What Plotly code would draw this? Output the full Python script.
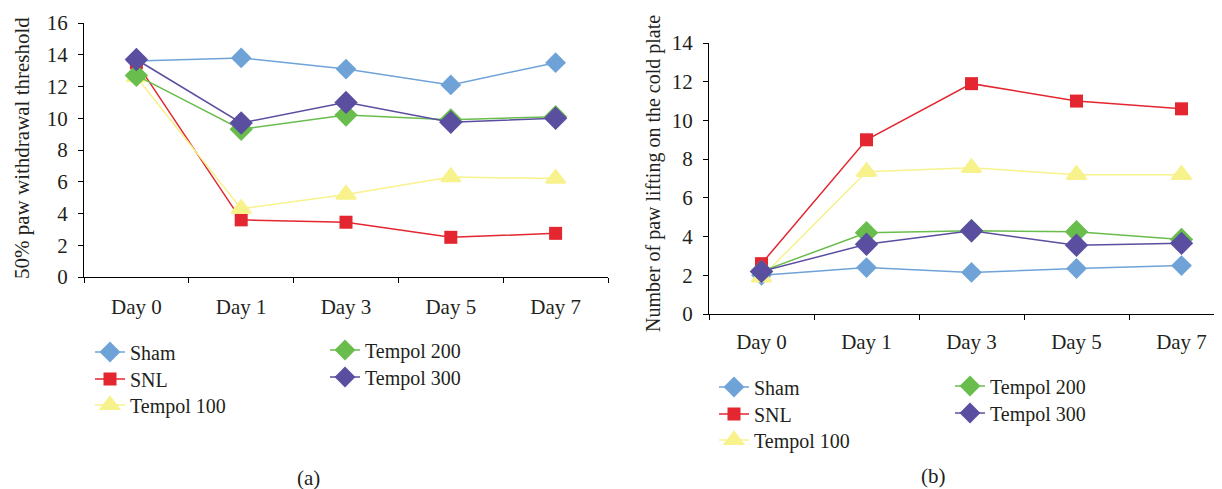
import plotly.graph_objects as go

days = ["Day 0", "Day 1", "Day 3", "Day 5", "Day 7"]
series_names = ["Sham", "SNL", "Tempol 100", "Tempol 200", "Tempol 300"]

# Panel (a): 50% paw withdrawal threshold
a_sham = [13.6, 13.8, 13.1, 12.1, 13.5]
a_snl = [13.5, 3.6, 3.45, 2.5, 2.75]
a_t100 = [12.6, 4.3, 5.2, 6.3, 6.2]
a_t200 = [12.7, 9.3, 10.2, 9.9, 10.1]
a_t300 = [13.7, 9.7, 11.0, 9.75, 10.0]

# Panel (b): number of paw lifting on the cold plate
b_sham = [2.0, 2.4, 2.15, 2.35, 2.5]
b_snl = [2.6, 9.0, 11.9, 11.0, 10.6]
b_t100 = [1.9, 7.35, 7.55, 7.2, 7.2]
b_t200 = [2.2, 4.2, 4.3, 4.25, 3.85]
b_t300 = [2.2, 3.6, 4.3, 3.55, 3.65]

a_tick_vals = [0, 2, 4, 6, 8, 10, 12, 14, 16]
b_tick_vals = [0, 2, 4, 6, 8, 10, 12, 14]

colors = ["#6fa3d8", "#e3262f", "#f7f28c", "#69bd4c", "#5a4ea0"]
symbols = ["diamond", "square", "triangle-up", "diamond", "diamond"]
sizes = [16, 13, 17, 18, 18]

FONT = "Liberation Serif"
FS = 21
LFS = 20
W, H = 1222, 489
OFF = 8  # page body margin in the browser


def px_x(p):
    return (p - OFF) / W


def px_y(p):
    return 1 - (p - OFF) / H


# legend placement (text start x, row centre y) in screen pixels
a_leg_pos = [(131, 352), (131, 379), (131, 405), (366, 350), (366, 377)]
b_leg_pos = [(755, 387), (755, 414), (755, 440), (991, 386), (991, 413)]

fig = go.Figure()
a_data = [a_sham, a_snl, a_t100, a_t200, a_t300]
b_data = [b_sham, b_snl, b_t100, b_t200, b_t300]

legend_layout = {}
for panel, (data, xa, ya, pos) in enumerate([(a_data, "x", "y", a_leg_pos), (b_data, "x2", "y2", b_leg_pos)]):
    for i, name in enumerate(series_names):
        idx = panel * 5 + i + 1
        lname = "legend" if idx == 1 else f"legend{idx}"
        fig.add_trace(go.Scatter(
            x=days, y=data[i], name=name, mode="lines+markers",
            line=dict(color=colors[i], width=1.5),
            marker=dict(symbol=symbols[i], size=sizes[i], color=colors[i],
                        line=dict(color=colors[i], width=2 if symbols[i] == "triangle-up" else 0)),
            xaxis=xa, yaxis=ya, legend=lname, showlegend=True, cliponaxis=False))
        tx, ty = pos[i]
        legend_layout[lname] = dict(x=px_x(tx - 41), y=px_y(ty), xanchor="left", yanchor="middle",
                                    bgcolor="rgba(0,0,0,0)", visible=True,
                                    font=dict(family=FONT, size=LFS, color="#231f20"))

axis_common = dict(showline=True, linecolor="black", linewidth=1.2, showgrid=False,
                   zeroline=False, ticks="outside", tickcolor="black", ticklen=5,
                   automargin=False,
                   tickfont=dict(family=FONT, size=FS, color="#231f20"))

fig.update_layout(
    width=W, height=H,
    margin=dict(l=0, r=0, t=0, b=0, pad=0, autoexpand=False),
    showlegend=True,
    paper_bgcolor="white", plot_bgcolor="white",
    font=dict(family=FONT, size=FS, color="#231f20"),
    xaxis=dict(domain=[px_x(84), px_x(608)], type="category", range=[-0.5, 4.5],
               tickson="boundaries", anchor="y", ticklabelstandoff=11, **axis_common),
    yaxis=dict(domain=[px_y(277), px_y(23)], range=[0, 16], tickvals=a_tick_vals,
               anchor="x", ticklabelstandoff=6, **axis_common),
    xaxis2=dict(domain=[px_x(709), 1.0], type="category",
                range=[-0.5, 4.5 - (709 + 525 - (W + OFF)) / 105.0],
                tickson="boundaries", anchor="y2", ticklabelstandoff=9, **axis_common),
    yaxis2=dict(domain=[px_y(314), px_y(43)], range=[0, 14], tickvals=b_tick_vals,
                anchor="x2", ticklabelstandoff=6, **axis_common),
    annotations=[
        dict(text="50% paw withdrawal threshold", x=px_x(22), y=px_y(148), xref="paper", yref="paper",
             textangle=-90, showarrow=False, xanchor="center", yanchor="middle",
             font=dict(family=FONT, size=FS)),
        dict(text="Number of paw lifting on the cold plate", x=px_x(653), y=px_y(174),
             xref="paper", yref="paper", textangle=-90, showarrow=False,
             xanchor="center", yanchor="middle", font=dict(family=FONT, size=20)),
        dict(text="(a)", x=px_x(308), y=px_y(478), xref="paper", yref="paper", showarrow=False,
             xanchor="center", yanchor="middle", font=dict(family=FONT, size=FS)),
        dict(text="(b)", x=px_x(933), y=px_y(476), xref="paper", yref="paper", showarrow=False,
             xanchor="center", yanchor="middle", font=dict(family=FONT, size=FS)),
    ],
    **legend_layout,
)

fig.write_html("out.html")
